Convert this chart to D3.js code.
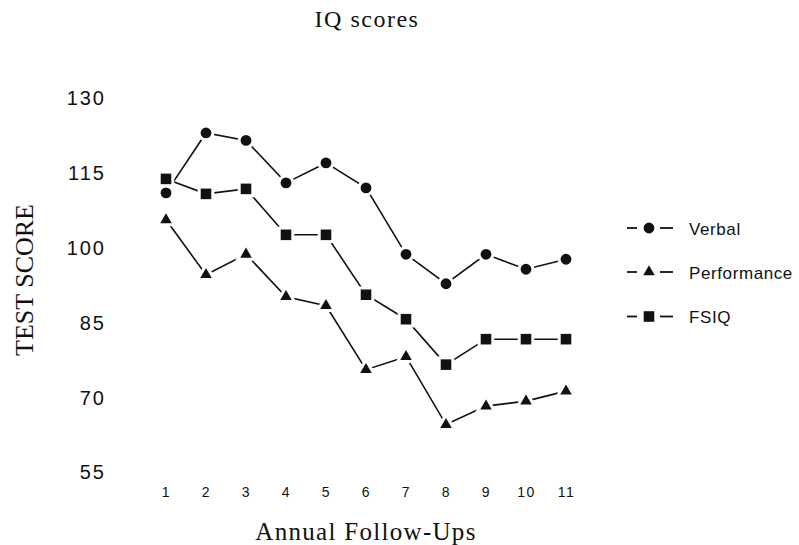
<!DOCTYPE html>
<html>
<head>
<meta charset="utf-8">
<script src="https://cdn.jsdelivr.net/npm/d3@7"></script>
<style>
  html, body { margin: 0; padding: 0; background: #fff; }
  svg { display: block; }
</style>
</head>
<body>
<svg id="chart" width="799" height="545"></svg>
<script>
// ---- data ----
const followUps = [1, 2, 3, 4, 5, 6, 7, 8, 9, 10, 11];
const verbal = [111, 123, 121.5, 113, 117, 112, 98.7, 92.8, 98.7, 95.7, 97.7];
const performance = [105.6, 94.6, 98.7, 90.2, 88.4, 75.6, 78.2, 64.6, 68.3, 69.3, 71.3];
const fsiq = [113.8, 110.8, 111.8, 102.6, 102.6, 90.6, 85.7, 76.6, 81.7, 81.7, 81.7];
const yTicks = [55, 70, 85, 100, 115, 130];
const seriesNames = ["Verbal", "Performance", "FSIQ"];

const series = [
  { name: seriesNames[0], values: verbal, symbol: d3.symbolCircle, size: 92 },
  { name: seriesNames[1], values: performance, symbol: d3.symbolTriangle, size: 58 },
  { name: seriesNames[2], values: fsiq, symbol: d3.symbolSquare, size: 112 }
];

const svg = d3.select("#chart");
const ink = "#111";

const x = d3.scaleLinear().domain([1, 11]).range([166, 566]);
const y = d3.scaleLinear().domain([55, 130]).range([472.5, 98]);

// title
svg.append("text")
  .attr("x", 367).attr("y", 27)
  .attr("text-anchor", "middle")
  .attr("font-family", "Liberation Serif, Times New Roman, serif")
  .attr("font-size", 24)
  .attr("letter-spacing", 1.5)
  .attr("fill", ink)
  .text("IQ scores");

// y axis (labels only)
const yAxis = svg.append("g")
  .attr("transform", "translate(109,0)")
  .call(d3.axisLeft(y).tickValues(yTicks).tickSize(0).tickPadding(3).tickFormat(d3.format("d")));
yAxis.select(".domain").remove();
yAxis.selectAll("text")
  .attr("font-family", "Liberation Sans, Arial, sans-serif")
  .attr("font-size", 20)
  .attr("letter-spacing", 2)
  .attr("fill", ink);

// x axis (labels only)
const xAxis = svg.append("g")
  .attr("transform", "translate(0,480)")
  .call(d3.axisBottom(x).tickValues(followUps).tickSize(0).tickPadding(7).tickFormat(d3.format("d")));
xAxis.select(".domain").remove();
xAxis.selectAll("text")
  .attr("font-family", "Liberation Sans, Arial, sans-serif")
  .attr("font-size", 14)
  .attr("letter-spacing", 1.5)
  .attr("fill", ink);

// axis titles
svg.append("text")
  .attr("x", 366).attr("y", 540)
  .attr("text-anchor", "middle")
  .attr("font-family", "Liberation Serif, Times New Roman, serif")
  .attr("font-size", 25)
  .attr("letter-spacing", 1.3)
  .attr("fill", ink)
  .text("Annual Follow-Ups");

svg.append("text")
  .attr("transform", "translate(33,280) rotate(-90)")
  .attr("text-anchor", "middle")
  .attr("font-family", "Liberation Serif, Times New Roman, serif")
  .attr("font-size", 26)
  .attr("fill", ink)
  .text("TEST SCORE");

// lines
const line = d3.line().x((d, i) => x(followUps[i])).y(d => y(d));
svg.append("g").selectAll("path")
  .data(series).join("path")
  .attr("d", s => line(s.values))
  .attr("fill", "none")
  .attr("stroke", ink)
  .attr("stroke-width", 1.6);

// markers
series.forEach(s => {
  svg.append("g").selectAll("path")
    .data(s.values).join("path")
    .attr("transform", (d, i) => `translate(${x(followUps[i])},${y(d)})`)
    .attr("d", d3.symbol().type(s.symbol).size(s.size))
    .attr("fill", ink)
    .attr("stroke", "#fff")
    .attr("stroke-width", 6)
    .attr("paint-order", "stroke");
});

// legend
const legendY = [228, 272, 316.5];
const lg = svg.append("g");
series.forEach((s, i) => {
  const g = lg.append("g").attr("transform", `translate(0,${legendY[i]})`);
  g.append("line").attr("x1", 627).attr("x2", 637).attr("y1", 0).attr("y2", 0)
    .attr("stroke", ink).attr("stroke-width", 1.8);
  g.append("line").attr("x1", 660).attr("x2", 673).attr("y1", 0).attr("y2", 0)
    .attr("stroke", ink).attr("stroke-width", 1.8);
  g.append("path")
    .attr("transform", "translate(649,0)")
    .attr("d", d3.symbol().type(s.symbol).size(s.size))
    .attr("fill", ink);
  g.append("text")
    .attr("x", 689).attr("y", 6.5)
    .attr("font-family", "Liberation Sans, Arial, sans-serif")
    .attr("font-size", 17)
    .attr("letter-spacing", 0.6)
    .attr("fill", ink)
    .text(s.name);
});
</script>
</body>
</html>
